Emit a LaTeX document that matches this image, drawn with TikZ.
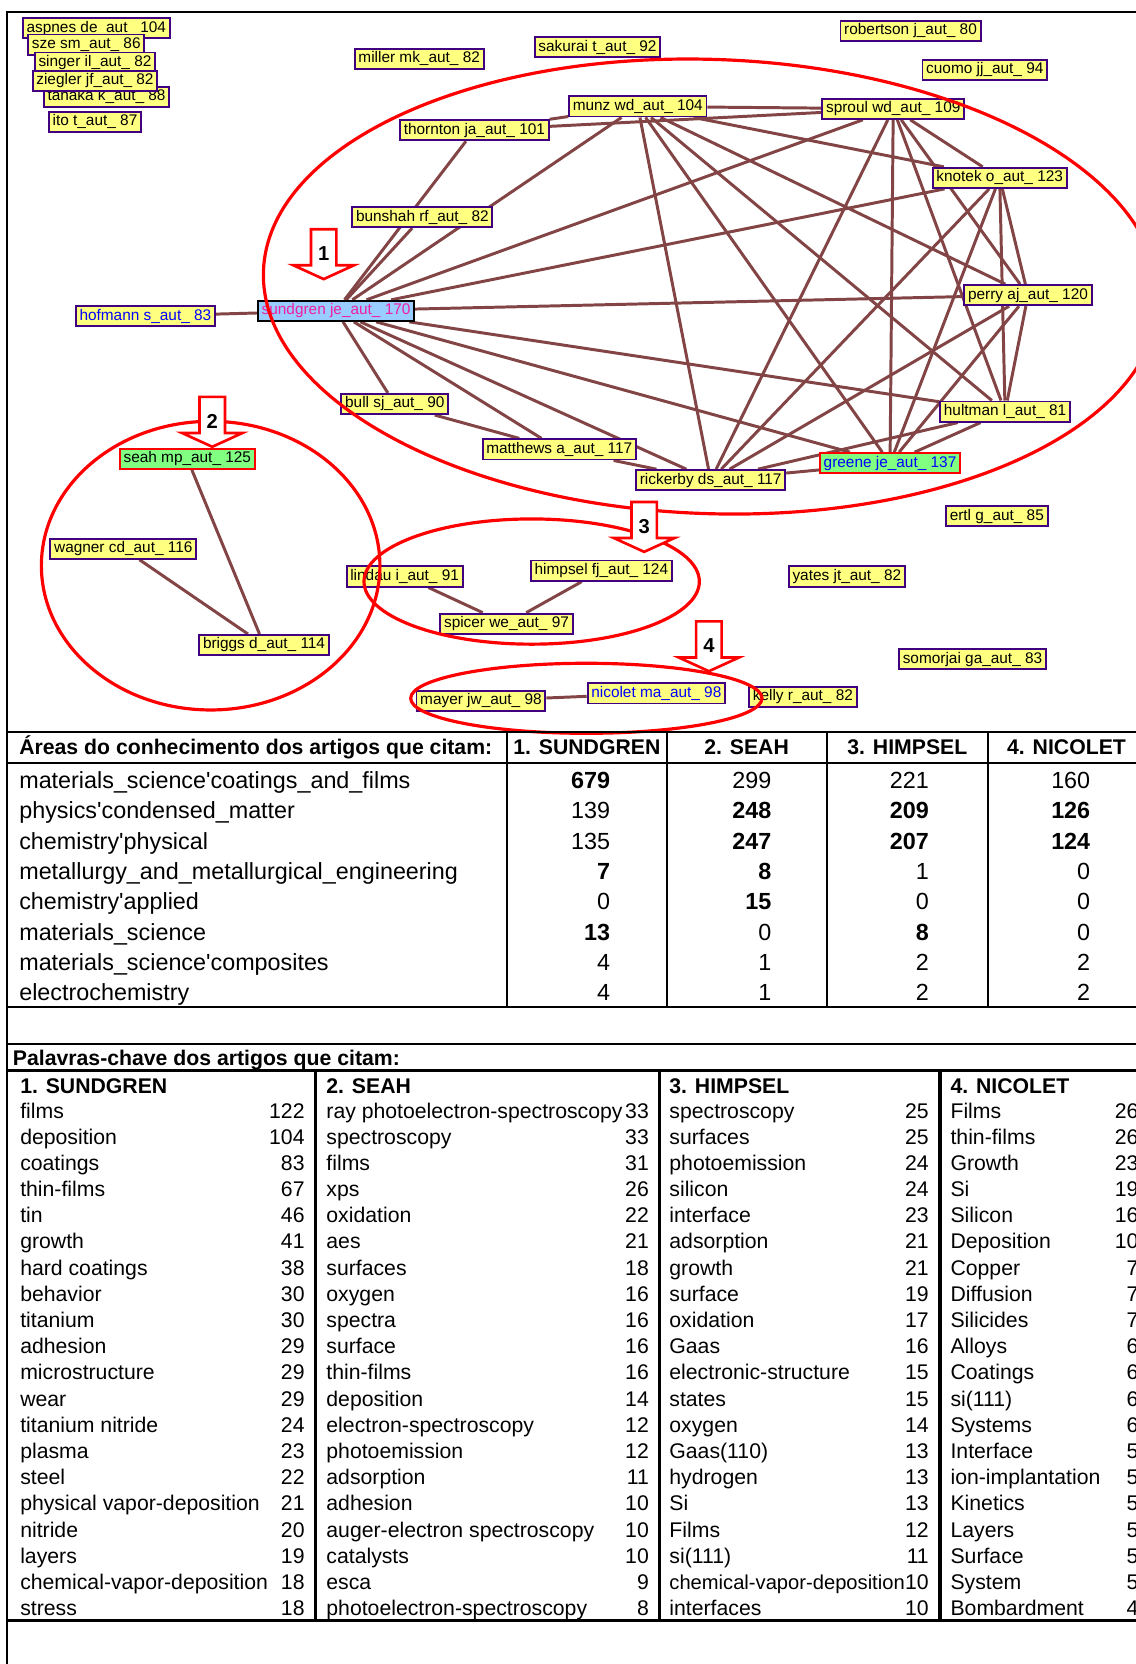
\documentclass[tikz,border=0pt]{standalone}
\usepackage{fontspec}
\setmainfont{Liberation Sans}[Ligatures=TeXOff]
\usetikzlibrary{backgrounds}
\definecolor{autfill}{RGB}{255,255,128}
\definecolor{autline}{RGB}{64,0,128}
\definecolor{linkcol}{RGB}{130,68,68}
\definecolor{hubfill}{RGB}{153,204,255}
\definecolor{hubtext}{RGB}{240,30,160}
\definecolor{seedfill}{RGB}{128,255,128}
\definecolor{ringred}{RGB}{255,0,0}
\definecolor{autblue}{RGB}{0,0,255}
\tikzset{
  aut/.style={rectangle, draw=autline, line width=1.8pt, fill=autfill,
              inner xsep=3.5pt, inner ysep=0pt, minimum height=19pt,
              font=\fontsize{14.5}{16}\selectfont},
  hub/.style={aut, draw=black, fill=hubfill, text=hubtext},
  seed/.style={aut, draw=ringred, fill=seedfill},
  blu/.style={text=autblue},
  link/.style={draw=linkcol, line width=2.8pt},
  ring/.style={draw=ringred, line width=3pt},
  blk/.style={draw=ringred, line width=2.5pt, fill=white, line join=miter},
  num/.style={font=\fontsize{19}{20}\selectfont\bfseries, inner sep=0pt},
}

\begin{document}
\begin{tikzpicture}[x=1pt, y=-1pt,
    rule/.style={line width=2pt},
    trule/.style={line width=3pt},
    hdr/.style={font=\fontsize{20}{22}\selectfont\bfseries, inner sep=0pt},
    cell/.style={font=\fontsize{22}{24}\selectfont, inner sep=0pt},
    kw/.style={font=\fontsize{20}{22}\selectfont, inner sep=0pt},
  ]
  \useasboundingbox (0,0) rectangle (1070,1568);

  % authors
  \node[aut] (aspnes)    at (90.8,26.7)  {aspnes de\_aut\_ 104};
  \node[aut] (sze)       at (81.3,42)    {sze sm\_aut\_ 86};
  \node[aut] (singer)    at (89.5,59)    {singer il\_aut\_ 82};
  \node[aut] (tanaka)    at (100.4,91.2) {tanaka k\_aut\_ 88};
  \node[aut] (ziegler)   at (89.5,76.2)  {ziegler jf\_aut\_ 82};
  \node[aut] (ito)       at (89.5,114.7) {ito t\_aut\_ 87};
  \node[aut] (miller)    at (395,55.3)   {miller mk\_aut\_ 82};
  \node[aut] (sakurai)   at (563,44.6)   {sakurai t\_aut\_ 92};
  \node[aut] (robertson) at (858,29)     {robertson j\_aut\_ 80};
  \node[aut] (cuomo)     at (928,65.7)   {cuomo jj\_aut\_ 94};
  \node[aut] (munz)      at (601,100.3)  {munz wd\_aut\_ 104};
  \node[aut] (thornton)  at (447,122.7)  {thornton ja\_aut\_ 101};
  \node[aut] (sproul)    at (841.7,102.5){sproul wd\_aut\_ 109};
  \node[aut] (knotek)    at (942,167.6)  {knotek o\_aut\_ 123};
  \node[aut] (bunshah)   at (398,204.5)  {bunshah rf\_aut\_ 82};
  \node[aut] (perry)     at (968.7,278.1){perry aj\_aut\_ 120};
  \node[aut, blu] (hofmann) at (137,297.8) {hofmann s\_aut\_ 83};
  \node[hub] (sundgren)  at (316.7,292.9){sundgren je\_aut\_ 170};
  \node[aut] (bull)      at (372,380.7)  {bull sj\_aut\_ 90};
  \node[aut] (hultman)   at (947.1,387.8){hultman l\_aut\_ 81};
  \node[aut] (matthews)  at (527,423.5)  {matthews a\_aut\_ 117};
  \node[seed, blu] (greene) at (838.7,436.5) {greene je\_aut\_ 137};
  \node[aut] (rickerby)  at (669.7,452.5){rickerby ds\_aut\_ 117};
  \node[seed] (seah)     at (176.5,432.4){seah mp\_aut\_ 125};
  \node[aut] (ertl)      at (939.3,486.3){ertl g\_aut\_ 85};
  \node[aut] (wagner)    at (116.2,517)  {wagner cd\_aut\_ 116};
  \node[aut] (briggs)    at (248.8,607.8){briggs d\_aut\_ 114};
  \node[aut] (lindau)    at (381.3,543.2){lindau i\_aut\_ 91};
  \node[aut] (himpsel)   at (566.7,537.7){himpsel fj\_aut\_ 124};
  \node[aut] (yates)     at (798,543.2)  {yates jt\_aut\_ 82};
  \node[aut] (spicer)    at (477.3,587.7){spicer we\_aut\_ 97};
  \node[aut] (somorjai)  at (916.4,621.1){somorjai ga\_aut\_ 83};
  \node[aut] (mayer)     at (453.2,660.3){mayer jw\_aut\_ 98};
  \node[aut, blu] (nicolet) at (618.5,653.4) {nicolet ma\_aut\_ 98};
  \node[aut] (kelly)     at (756.6,656.5){kelly r\_aut\_ 82};

  % co-authorship links, under the boxes
  \begin{scope}[on background layer]
    \foreach \a/\b in {hofmann/sundgren, sundgren/thornton, sundgren/bunshah,
        sundgren/munz, sundgren/sproul, sundgren/knotek, sundgren/perry,
        sundgren/hultman, sundgren/greene, sundgren/rickerby,
        sundgren/matthews, sundgren/bull, thornton/munz, thornton/sproul,
        bull/matthews, matthews/rickerby,
        munz/sproul, munz/knotek, munz/perry, munz/hultman, munz/greene,
        munz/rickerby, sproul/knotek, sproul/perry, sproul/hultman,
        sproul/greene, sproul/rickerby, knotek/perry, knotek/hultman,
        knotek/greene, knotek/rickerby, perry/hultman, perry/greene,
        perry/rickerby, hultman/greene, hultman/rickerby, greene/rickerby,
        seah/briggs, wagner/briggs, lindau/spicer, himpsel/spicer,
        mayer/nicolet}
      \draw[link] (\a) -- (\b);
  \end{scope}

  % groups
  \draw[ring, rotate around={-2:(670,270)}] (670,270) ellipse [x radius=422, y radius=214];
  \draw[ring] (198.5,533) ellipse [x radius=159.5, y radius=136];
  \draw[ring] (501,548) ellipse [x radius=158, y radius=59];
  \draw[ring] (552.5,658) ellipse [x radius=165.5, y radius=33];

  % numbered arrows
  \foreach \x/\y/\n in {305/216/1, 200/374/2, 607/473/3, 668/585.5/4} {
    \draw[blk] (\x-12,\y) -- (\x+12,\y) -- (\x+12,\y+34) -- (\x+28.5,\y+34)
      -- (\x,\y+47) -- (\x-28.5,\y+34) -- (\x-12,\y+34) -- cycle;
    \node[num] (arrow\n) at (\x,\y+23) {\n};
  }

  % frame and rules
  \draw[rule] (7,1575) -- (7,11) -- (1080,11);
  \draw[rule] (7,690) -- (1080,690);
  \draw[rule] (7,718.6) -- (1080,718.6);
  \draw[rule] (7,948.5) -- (1080,948.5);
  \draw[rule] (7,983.6) -- (1080,983.6);
  \draw[trule] (7,1008.8) -- (1080,1008.8);
  \draw[trule] (7,1527) -- (1080,1527);
  \foreach \x in {478,628.2,779.3,930.7}
    \draw[rule] (\x,690) -- (\x,948.5);
  \foreach \x in {297.5,621.3,885.7}
    \draw[trule] (\x,1008.8) -- (\x,1527);

  % areas table
  \node[hdr, anchor=base west] (areahead) at (18,711)
    {Áreas do conhecimento dos artigos que citam:};
  \foreach \x/\t [count=\k] in {553/1. SUNDGREN, 703.5/2. SEAH,
      855/3. HIMPSEL, 1005/4. NICOLET}
    \node[hdr, anchor=base] (areacol\k) at (\x,711) {\t};
  \foreach \lab/\a/\b/\c/\d [count=\r from 0] in {
      materials\_science\textquotesingle coatings\_and\_films/\textbf{679}/299/221/160,
      physics\textquotesingle condensed\_matter/139/\textbf{248}/\textbf{209}/\textbf{126},
      chemistry\textquotesingle physical/135/\textbf{247}/\textbf{207}/\textbf{124},
      metallurgy\_and\_metallurgical\_engineering/\textbf{7}/\textbf{8}/1/0,
      chemistry\textquotesingle applied/0/\textbf{15}/0/0,
      materials\_science/\textbf{13}/0/\textbf{8}/0,
      materials\_science\textquotesingle composites/4/1/2/2,
      electrochemistry/4/1/2/2} {
    \node[cell, anchor=base west] (area\r) at (18,743+28.57*\r) {\lab};
    \node[cell, anchor=base east] (areaa\r) at (575,743+28.57*\r) {\a};
    \node[cell, anchor=base east] (areab\r) at (727,743+28.57*\r) {\b};
    \node[cell, anchor=base east] (areac\r) at (875.4,743+28.57*\r) {\c};
    \node[cell, anchor=base east] (aread\r) at (1027.5,743+28.57*\r) {\d};
  }

  % keywords table
  \node[hdr, anchor=base west] (kwhead) at (12,1004)
    {Palavras-chave dos artigos que citam:};
  \foreach \x/\t [count=\k] in {18.9/1. SUNDGREN, 307.4/2. SEAH,
      630.6/3. HIMPSEL, 895.5/4. NICOLET}
    \node[hdr, anchor=base west] (kwcol\k) at (\x,1030) {\t};
  \foreach \w/\n [count=\i from 0] in {films/122, deposition/104, coatings/83,
      thin-films/67, tin/46, growth/41, hard coatings/38, behavior/30,
      titanium/30, adhesion/29, microstructure/29, wear/29,
      titanium nitride/24, plasma/23, steel/22, physical vapor-deposition/21,
      nitride/20, layers/19, chemical-vapor-deposition/18, stress/18} {
    \node[kw, anchor=base west] (kwa\i) at (18.9,1053.5+24.68*\i) {\w};
    \node[kw, anchor=base east] (kwan\i) at (287.2,1053.5+24.68*\i) {\n};
  }
  \foreach \w/\n [count=\i from 0] in {ray photoelectron-spectroscopy/33,
      spectroscopy/33, films/31, xps/26, oxidation/22, aes/21, surfaces/18,
      oxygen/16, spectra/16, surface/16, thin-films/16, deposition/14,
      electron-spectroscopy/12, photoemission/12, adsorption/11,
      adhesion/10, auger-electron spectroscopy/10, catalysts/10, esca/9,
      photoelectron-spectroscopy/8} {
    \node[kw, anchor=base west] (kwb\i) at (307.4,1053.5+24.68*\i) {\w};
    \node[kw, anchor=base east] (kwbn\i) at (611.6,1053.5+24.68*\i) {\n};
  }
  \foreach \w/\n [count=\i from 0] in {spectroscopy/25, surfaces/25,
      photoemission/24, silicon/24, interface/23, adsorption/21, growth/21,
      surface/19, oxidation/17, Gaas/16, electronic-structure/15, states/15,
      oxygen/14, Gaas(110)/13, hydrogen/13, Si/13, Films/12, si(111)/11,
      {\fontsize{19}{22}\selectfont chemical-vapor-deposition}/10,
      interfaces/10} {
    \node[kw, anchor=base west] (kwc\i) at (630.6,1053.5+24.68*\i) {\w};
    \node[kw, anchor=base east] (kwcn\i) at (875.4,1053.5+24.68*\i) {\n};
  }
  \foreach \w/\n [count=\i from 0] in {Films/26, thin-films/26, Growth/23,
      Si/19, Silicon/16, Deposition/10, Copper/7, Diffusion/7, Silicides/7,
      Alloys/6, Coatings/6, si(111)/6, Systems/6, Interface/5,
      ion-implantation/5, Kinetics/5, Layers/5, Surface/5, System/5,
      Bombardment/4} {
    \node[kw, anchor=base west] (kwd\i) at (895.5,1053.5+24.68*\i) {\w};
    \node[kw, anchor=base east] (kwdn\i) at (1073,1053.5+24.68*\i) {\n};
  }
\end{tikzpicture}
\end{document}
